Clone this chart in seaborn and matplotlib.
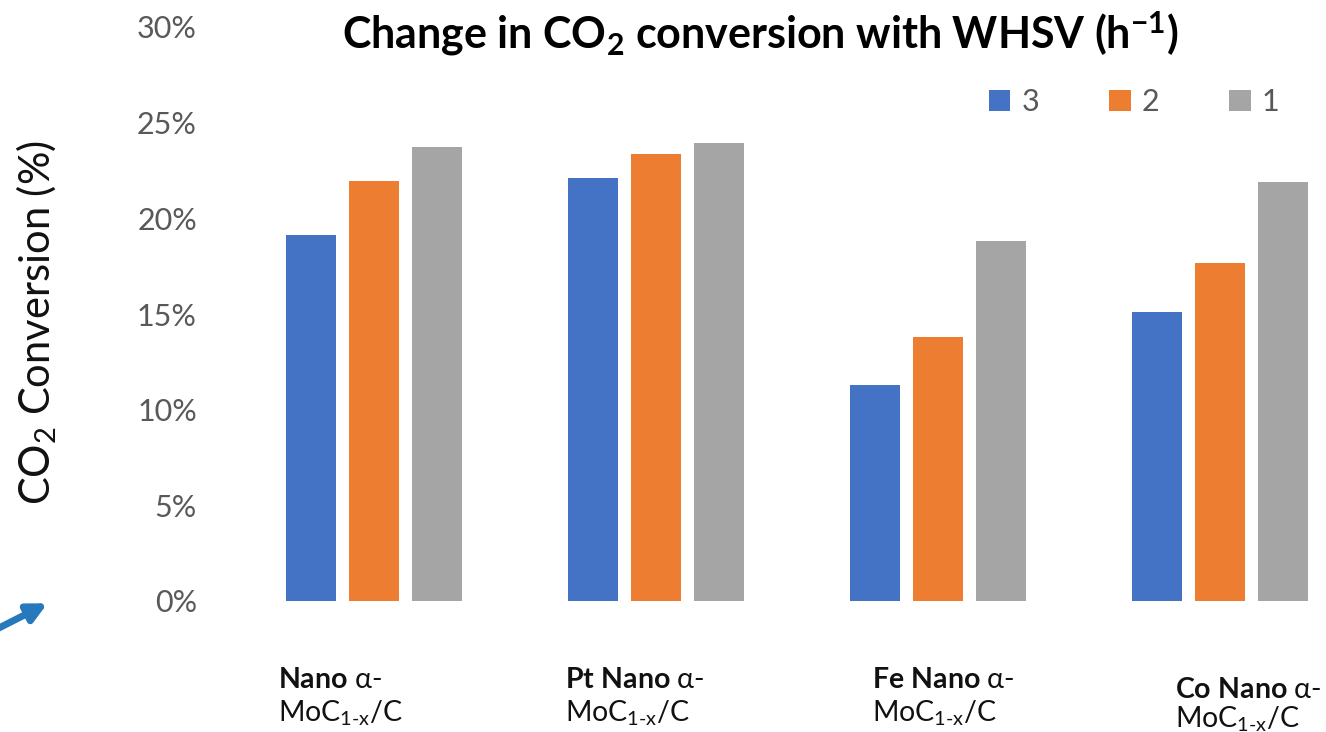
import matplotlib
matplotlib.use("Agg")
import matplotlib.pyplot as plt
from matplotlib.ticker import PercentFormatter
import seaborn as sns
import pandas as pd

# ---- data -------------------------------------------------------------
catalysts = ["Nano", "Pt Nano", "Fe Nano", "Co Nano"]
whsv_levels = ["3", "2", "1"]          # WHSV (h^-1)
conv_whsv3 = [0.1913, 0.2211, 0.1129, 0.1511]
conv_whsv2 = [0.2195, 0.2337, 0.1380, 0.1767]
conv_whsv1 = [0.2373, 0.2394, 0.1882, 0.2190]
y_ticks = [0.0, 0.05, 0.10, 0.15, 0.20, 0.25, 0.30]

rows = []
for level, values in zip(whsv_levels, [conv_whsv3, conv_whsv2, conv_whsv1]):
    for cat, v in zip(catalysts, values):
        rows.append({"catalyst": cat, "WHSV": level, "conversion": v})
df = pd.DataFrame(rows)

# ---- style ------------------------------------------------------------
sns.set_theme(style="white")
plt.rcParams["font.family"] = ["Lato", "DejaVu Sans"]
plt.rcParams["mathtext.fontset"] = "custom"
plt.rcParams["mathtext.rm"] = "Lato"
plt.rcParams["mathtext.it"] = "Lato:italic"
plt.rcParams["mathtext.bf"] = "Lato:bold"

palette = {"3": "#4472C4", "2": "#ED7D31", "1": "#A5A5A5"}
tick_color = "#595959"

W, H = 1326, 732
fig = plt.figure(figsize=(W / 100, H / 100), dpi=100)
# plot area runs slightly past the right edge of the canvas
ax = fig.add_axes([233 / W, 131 / H, 1128 / W, 574 / H])

sns.barplot(data=df, x="catalyst", y="conversion", hue="WHSV",
            hue_order=whsv_levels, order=catalysts, palette=palette,
            width=0.67, gap=0.2, linewidth=0, errorbar=None,
            saturation=1, ax=ax)

ax.set_xlim(-0.5, 3.5)
ax.set_ylim(0, 0.30)
ax.set_yticks(y_ticks)
ax.yaxis.set_major_formatter(PercentFormatter(1.0, decimals=0))
ax.tick_params(axis="y", length=0, pad=26, labelsize=22, labelcolor=tick_color)
ax.set_xticks(range(len(catalysts)))
ax.set_xticklabels([])
ax.tick_params(axis="x", length=0)
ax.set_xlabel("")
for s in ax.spines.values():
    s.set_visible(False)

ax.set_ylabel("CO$_2$ Conversion (%)", fontsize=30, color="#111111",
              va="center")
ax.yaxis.set_label_coords((37 - 233) / 1128, (601 - 323) / 574)

# category labels, two lines each
label_left_px = [278, 565, 872, 1175]
label_base1_px = [688, 688, 688, 698]
label_base2_px = [722, 722, 722, 728]
for cat, xl, b1, b2 in zip(catalysts, label_left_px, label_base1_px, label_base2_px):
    bold = cat.replace(" ", r"\ ")
    fig.text(xl / W, 1 - b1 / H, r"$\mathbf{" + bold + r"}$ α-",
             fontsize=20.5, color="#111111", ha="left", va="baseline")
    fig.text(xl / W, 1 - b2 / H, r"MoC$_{\mathrm{1}\text{-}\mathrm{x}}$/C",
             fontsize=20.5, color="#111111", ha="left", va="baseline")

# title
fig.text(760 / W, 1 - 48 / H,
         r"Change in CO$_\mathbf{2}$ conversion with WHSV (h$^{\mathbf{-1}}$)",
         fontsize=31, fontweight="bold", color="#000000",
         ha="center", va="baseline")

# legend
handles, labels = ax.get_legend_handles_labels()
ax.legend(handles, labels, ncol=3, frameon=False, fontsize=22,
          labelcolor=tick_color, handlelength=0.7, handleheight=0.7,
          handletextpad=0.35, columnspacing=2.3,
          loc="center", bbox_to_anchor=(1134 / W, 1 - 102 / H),
          bbox_transform=fig.transFigure)

# pointer arrow at the lower left
fig.add_artist(matplotlib.patches.FancyArrowPatch(
    (-5, H - 630), (50, H - 602), transform=None,
    arrowstyle="-|>", mutation_scale=28, lw=5, color="#2878BE"))

fig.savefig("out.png", dpi=100)
